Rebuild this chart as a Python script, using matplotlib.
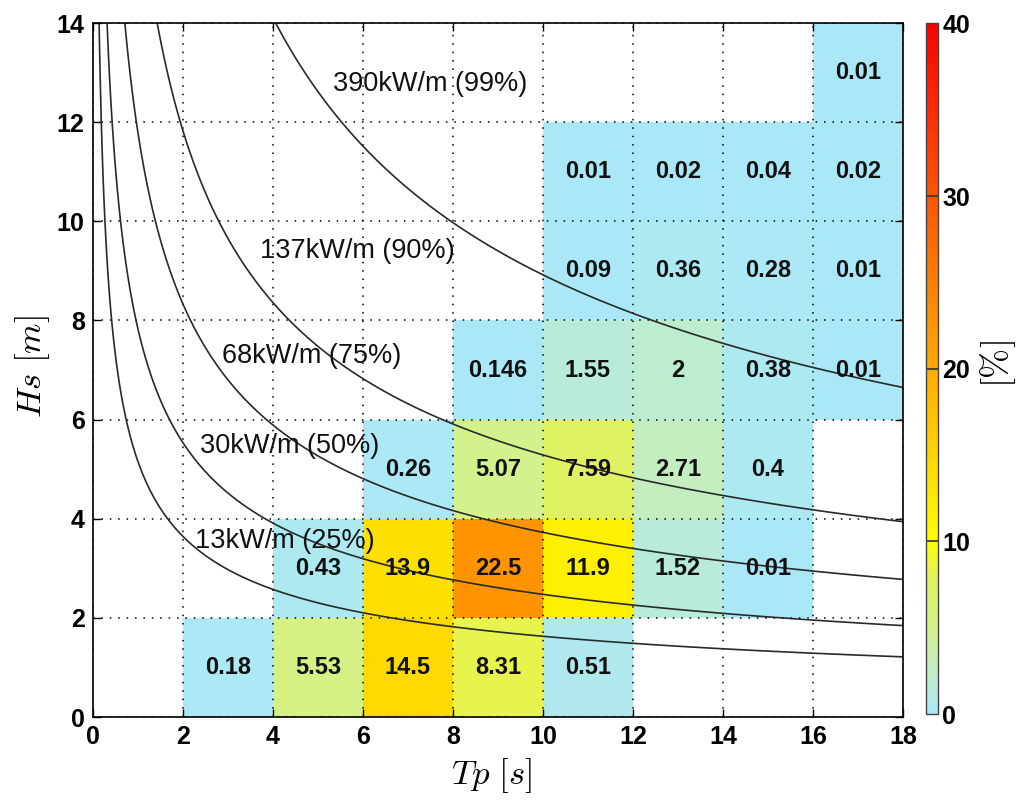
import numpy as np
import matplotlib
matplotlib.use("Agg")
import matplotlib.pyplot as plt
from matplotlib.colors import LinearSegmentedColormap

plt.rcParams['font.family'] = ['Liberation Sans', 'DejaVu Sans']
plt.rcParams['mathtext.fontset'] = 'cm'

# ---- data ----
tp_edges = [0, 2, 4, 6, 8, 10, 12, 14, 16, 18]
hs_edges = [0, 2, 4, 6, 8, 10, 12, 14]
N = None
# rows: Hs bins bottom -> top ; columns: Tp bins left -> right
occ_hs_0_2   = [N, 0.18, 5.53, 14.5, 8.31, 0.51, N, N, N]
occ_hs_2_4   = [N, N, 0.43, 13.9, 22.5, 11.9, 1.52, 0.01, N]
occ_hs_4_6   = [N, N, N, 0.26, 5.07, 7.59, 2.71, 0.4, N]
occ_hs_6_8   = [N, N, N, N, 0.146, 1.55, 2, 0.38, 0.01]
occ_hs_8_10  = [N, N, N, N, N, 0.09, 0.36, 0.28, 0.01]
occ_hs_10_12 = [N, N, N, N, N, 0.01, 0.02, 0.04, 0.02]
occ_hs_12_14 = [N, N, N, N, N, N, N, N, 0.01]

power_levels = [13, 30, 68, 137, 390]          # kW/m
power_labels = ['13kW/m (25%)', '30kW/m (50%)', '68kW/m (75%)',
                '137kW/m (90%)', '390kW/m (99%)']
power_label_pos = [(2.27, 3.55), (2.38, 5.47), (2.87, 7.28), (3.71, 9.40), (5.33, 12.77)]
flux_coeff = 0.49   # P = 0.49 Hs^2 Tp  [kW/m]

rows = [occ_hs_0_2, occ_hs_2_4, occ_hs_4_6, occ_hs_6_8, occ_hs_8_10, occ_hs_10_12, occ_hs_12_14]
Z = np.array([[np.nan if v is None else v for v in r] for r in rows], dtype=float)
Zm = np.ma.masked_invalid(Z)

cmap = LinearSegmentedColormap.from_list('scatter', [
    (0.0,   (170/255, 232/255, 248/255)),
    (0.0625,(195/255, 238/255, 195/255)),
    (0.125, (212/255, 242/255, 140/255)),
    (0.2,   (226/255, 242/255, 92/255)),
    (0.25,  (1.0, 1.0, 0.0)),
    (0.5,   (1.0, 0.667, 0.0)),
    (0.75,  (1.0, 0.333, 0.0)),
    (1.0,   (1.0, 0.0, 0.0)),
])

fig = plt.figure(figsize=(10.2, 8.05), dpi=100)
ax = fig.add_axes([0.0912, 0.1093, 0.794, 0.862])
cax = fig.add_axes([0.908, 0.1130, 0.0118, 0.858])

mesh = ax.pcolormesh(tp_edges, hs_edges, Zm, cmap=cmap, vmin=0, vmax=40, zorder=1)

# grid
ax.set_xticks(tp_edges)
ax.set_yticks(hs_edges)
ax.grid(True, linestyle=(0, (1, 4.5)), color='k', linewidth=1.1, zorder=2)
ax.set_axisbelow(False)

# iso-power contours
tt = np.linspace(0.05, 18, 600)
hh = np.linspace(0, 14, 600)
T, H = np.meshgrid(tt, hh)
P = flux_coeff * H**2 * T
ax.contour(T, H, P, levels=power_levels, colors='#2a2a2a', linewidths=1.2, zorder=3)

for lab, (x, y) in zip(power_labels, power_label_pos):
    ax.text(x, y, lab, fontsize=19.5, ha='left', va='center', color='#111111', zorder=5)

# cell values
for i in range(len(hs_edges) - 1):
    for j in range(len(tp_edges) - 1):
        v = rows[i][j]
        if v is None:
            continue
        xc = (tp_edges[j] + tp_edges[j + 1]) / 2
        yc = (hs_edges[i] + hs_edges[i + 1]) / 2
        ax.text(xc, yc, f'{v:g}', ha='center', va='center', fontsize=17,
                fontweight='bold', color='#111111', zorder=5)

ax.set_xlim(0, 18)
ax.set_ylim(0, 14)
ax.tick_params(direction='in', top=True, right=True, length=6, width=1,
               labelsize=18, pad=6)
for lbl in ax.get_xticklabels() + ax.get_yticklabels():
    lbl.set_fontweight('bold')
for s in ax.spines.values():
    s.set_linewidth(1.2)
    s.set_zorder(6)

fig.text(0.482, 0.037, r'$Tp\ [s]$', fontsize=25, ha='center', va='center')
fig.text(0.032, 0.545, r'$Hs\ [m]$', fontsize=25, ha='center', va='center', rotation=90)

cb = fig.colorbar(mesh, cax=cax)
cb.set_ticks([0, 10, 20, 30, 40])
cb.ax.tick_params(length=0, labelsize=18, pad=3)
for lbl in cb.ax.get_yticklabels():
    lbl.set_fontweight('bold')
for lv in [10, 20, 30]:
    cb.ax.axhline(lv, color='#333333', linewidth=1.2)
cb.outline.set_linewidth(1.0)
cb.outline.set_edgecolor('#444444')
fig.text(0.978, 0.548, r'$[\%]$', fontsize=26, ha='center', va='center', rotation=90)

fig.savefig('out.png', dpi=100)
